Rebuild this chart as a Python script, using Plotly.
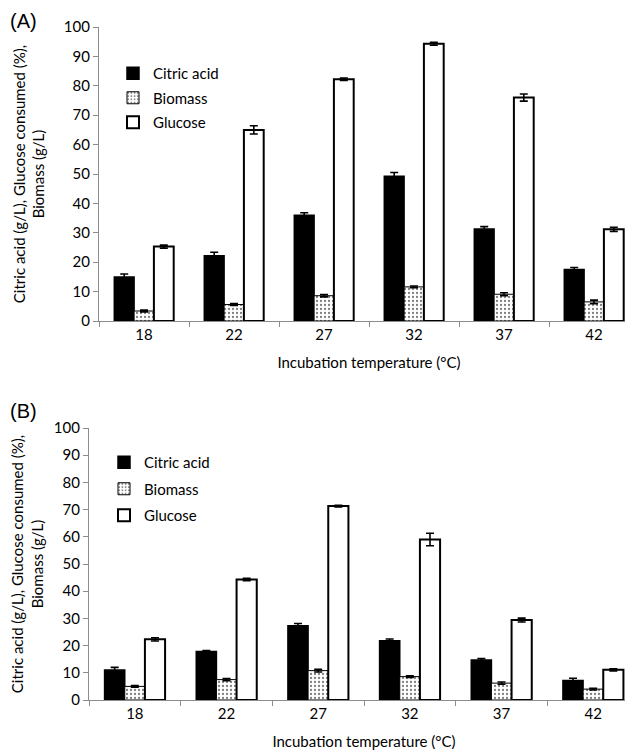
import plotly.graph_objects as go

temps = ["18", "22", "27", "32", "37", "42"]

# panel A
citric_a = [15.0, 22.2, 36.0, 49.2, 31.3, 17.5]
citric_a_err = [1.0, 1.2, 0.8, 1.3, 0.8, 0.7]
biomass_a = [3.4, 5.6, 8.6, 11.6, 9.1, 6.5]
biomass_a_err = [0.3, 0.3, 0.4, 0.3, 0.5, 0.6]
glucose_a = [25.3, 65.0, 82.2, 94.3, 76.0, 31.2]
glucose_a_err = [0.5, 1.4, 0.4, 0.5, 1.2, 0.7]

# panel B
citric_b = [11.0, 17.8, 27.3, 21.8, 14.7, 7.2]
citric_b_err = [1.0, 0.4, 0.8, 0.6, 0.5, 0.8]
biomass_b = [5.0, 7.5, 10.8, 8.6, 6.2, 4.0]
biomass_b_err = [0.3, 0.4, 0.5, 0.3, 0.4, 0.3]
glucose_b = [22.3, 44.3, 71.3, 59.0, 29.4, 11.1]
glucose_b_err = [0.6, 0.4, 0.3, 2.3, 0.7, 0.4]

FONT = "Lato"
W, H = 633, 752


def err(vals):
    return dict(type="data", array=vals, color="black", thickness=1.6, width=4)


def add_panel(fig, xa, ya, leg, citric, citric_err, biomass, biomass_err, glucose, glucose_err):
    fig.add_trace(go.Bar(
        x=temps, y=citric, name="Citric acid", xaxis=xa, yaxis=ya, legend=leg,
        legendgroup=leg + "c",
        marker=dict(color="black", line=dict(color="black", width=1.5)),
        error_y=err(citric_err)))
    fig.add_trace(go.Bar(
        x=temps, y=biomass, name="Biomass", xaxis=xa, yaxis=ya, legend=leg,
        legendgroup=leg + "b",
        marker=dict(color="white", line=dict(color="black", width=1),
                    pattern=dict(shape=".", fgcolor="black", bgcolor="white",
                                 size=4, solidity=0.25)),
        error_y=err(biomass_err)))
    fig.add_trace(go.Bar(
        x=temps, y=glucose, name="Glucose", xaxis=xa, yaxis=ya, legend=leg,
        legendgroup=leg + "g",
        marker=dict(color="white", line=dict(color="black", width=2)),
        error_y=err(glucose_err)))


fig = go.Figure()
add_panel(fig, "x", "y", "legend", citric_a, citric_a_err, biomass_a, biomass_a_err,
          glucose_a, glucose_a_err)
add_panel(fig, "x2", "y2", "legend2", citric_b, citric_b_err, biomass_b, biomass_b_err,
          glucose_b, glucose_b_err)

ytitle = "Citric acid (g/L), Glucose consumed (%),<br>Biomass (g/L)"
xaxis_style = dict(type="category", showline=True, linecolor="#8c8c8c", linewidth=1.2,
                   ticks="outside", tickson="boundaries", ticklen=5, tickcolor="#8c8c8c",
                   showgrid=False, automargin=False,
                   tickfont=dict(size=15, color="black"),
                   title=dict(text="Incubation temperature (°C)", font=dict(size=15)))
yaxis_style = dict(range=[0, 100], dtick=10, showline=True, linecolor="#8c8c8c", linewidth=1.2,
                   ticks="outside", ticklen=5, tickcolor="#8c8c8c", showgrid=False,
                   zeroline=False, automargin=False, tickfont=dict(size=15, color="black"),
                   title=dict(text=ytitle, font=dict(size=15)))

legend_style = dict(bgcolor="rgba(0,0,0,0)", font=dict(size=15, color="black"),
                    traceorder="grouped", itemwidth=30,
                    xanchor="left", yanchor="top", xref="paper", yref="paper")

fig.update_layout(
    width=W, height=H,
    margin=dict(l=0, r=0, t=0, b=0),
    paper_bgcolor="white", plot_bgcolor="white",
    font=dict(family=FONT, color="black"),
    barmode="group", bargap=0.34, bargroupgap=0,
    xaxis=dict(domain=[91 / W, 631 / W], anchor="y", **xaxis_style),
    yaxis=dict(domain=[1 - 313 / H, 1 - 19 / H], anchor="x", **yaxis_style),
    xaxis2=dict(domain=[81 / W, 631 / W], anchor="y2", **xaxis_style),
    yaxis2=dict(domain=[1 - 692 / H, 1 - 420 / H], anchor="x2", **yaxis_style),
    legend=dict(x=105 / W, y=1 - 49 / H, tracegroupgap=2, **legend_style),
    legend2=dict(x=96 / W, y=1 - 438 / H, tracegroupgap=4, **legend_style),
    annotations=[
        dict(text="(A)", x=0, y=1, xref="paper", yref="paper", xanchor="left", yanchor="top",
             showarrow=False, font=dict(family="Liberation Sans", size=20)),
        dict(text="(B)", x=0, y=1 - 390 / H, xref="paper", yref="paper", xanchor="left",
             yanchor="top", showarrow=False, font=dict(family="Liberation Sans", size=20)),
    ],
)

fig.write_html("out.html")
